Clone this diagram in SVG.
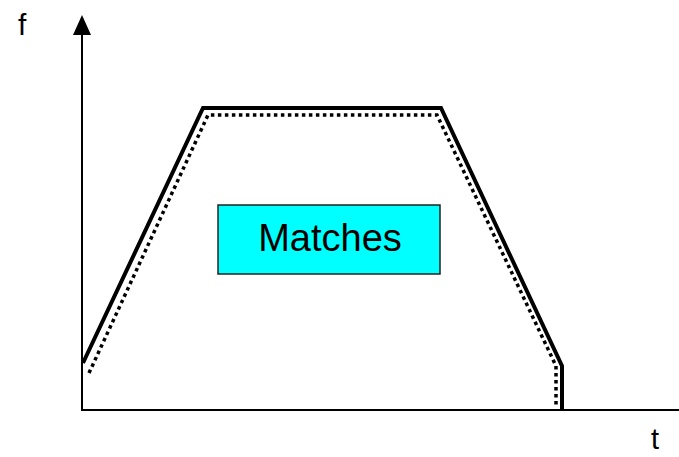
<svg xmlns="http://www.w3.org/2000/svg" width="679" height="457" viewBox="0 0 679 457">
<style>
.lbl{font-family:"Liberation Sans",Arial,sans-serif;fill:#000}
.solid{fill:none;stroke:#000;stroke-width:4;stroke-linejoin:miter}
.dotted{fill:none;stroke:#000;stroke-width:3.5;stroke-dasharray:3.5 3.5}
.axis{fill:none;stroke:#000;stroke-width:2}
</style>
<rect width="679" height="457" fill="#fff"/>
<g id="axes">
<line class="axis" x1="82" y1="410" x2="82" y2="32"/>
<polygon points="82,15 73,35 91,35" fill="#000"/>
<line class="axis" x1="81" y1="410" x2="679" y2="410"/>
<text class="lbl" x="18" y="35" font-size="30">f</text>
<text class="lbl" x="651" y="449" font-size="29">t</text>
</g>
<g id="curves">
<polyline class="dotted" points="89,373 208,115 437,115 556,366 556,408"/>
<polyline class="solid" points="83,363 203,108 441,108 562,366 562,410"/>
</g>
<g id="matches">
<rect x="218" y="205" width="222" height="69" fill="#00FFFF" stroke="#222" stroke-width="1.5"/>
<text class="lbl" x="330" y="251" font-size="38" text-anchor="middle">Matches</text>
</g>
</svg>
